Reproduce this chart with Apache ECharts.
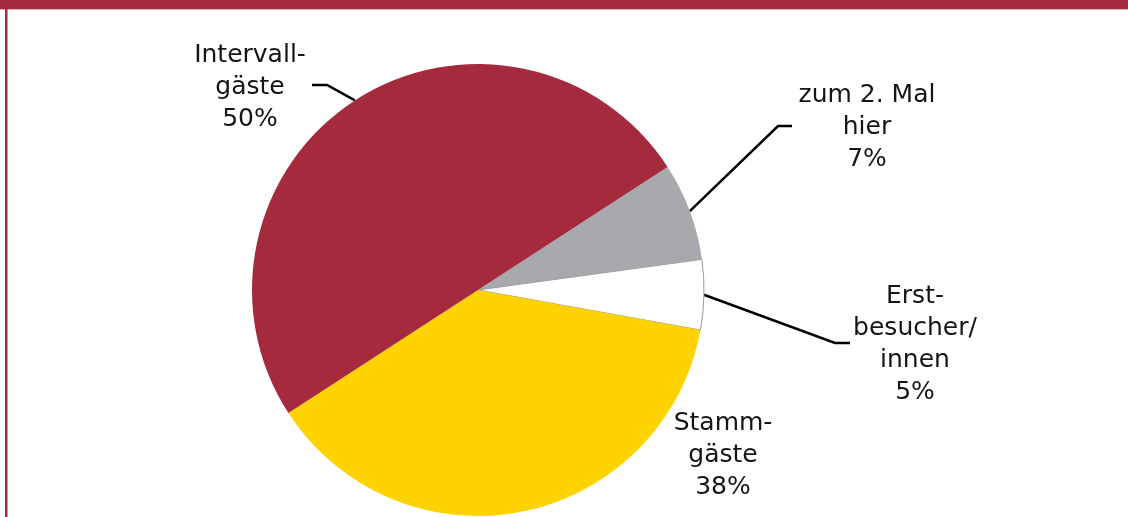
<!DOCTYPE html>
<html>
<head>
<meta charset="utf-8">
<script src="https://cdn.jsdelivr.net/npm/echarts@6/dist/echarts.min.js"></script>
<style>
  html, body { margin: 0; padding: 0; background: #fff; }
  #chart { width: 1128px; height: 517px; }
</style>
</head>
<body>
<div id="chart"></div>
<script>
// Daten (Reihenfolge im Uhrzeigersinn ab Startwinkel)
const categories = ['zum 2. Mal hier', 'Erstbesucher/innen', 'Stammgäste', 'Intervallgäste']
const labelTexts = ['zum 2. Mal\nhier', 'Erst-\nbesucher/\ninnen', 'Stamm-\ngäste', 'Intervall-\ngäste']
const values = [7, 5, 38, 50]

// Farben der Segmente
const colors = ['#a7a9ac', '#ffffff', '#ffd300', '#a52a3e']

// Label-Position (Mitte des Textblocks) und Knick/Ende der Führungslinie
const labelAnchor = [[867, 127], [915, 344], [723, 455], [250, 87]]
const lineBend = [[778, 126], [835, 343], null, [327, 85]]
const lineEnd = [[792, 126], [850, 343], null, [312, 85]]

const chart = echarts.init(document.getElementById('chart'), null, { renderer: 'canvas' })

const option = {
  animation: false,
  backgroundColor: '#fff',
  graphic: [
    // roter Rahmen oben und links
    { type: 'rect', shape: { x: 0, y: 0, width: 1128, height: 9 }, style: { fill: '#a52a3e' } },
    { type: 'rect', shape: { x: 0, y: 9, width: 1128, height: 1 }, style: { fill: '#e3b3bb' } },
    { type: 'rect', shape: { x: 5, y: 0, width: 2.5, height: 517 }, style: { fill: '#a52a3e' } }
  ],
  series: [
    {
      type: 'pie',
      center: [478, 290],
      radius: 226,
      startAngle: 33,
      clockwise: true,
      avoidLabelOverlap: false,
      emphasis: { disabled: true },
      data: categories.map((name, i) => ({
        name: name,
        value: values[i],
        itemStyle: i === 1
          ? { color: colors[i], borderColor: '#9a9a9a', borderWidth: 1 }
          : { color: colors[i], borderWidth: 0 },
        labelLine: { show: lineBend[i] !== null }
      })),
      label: {
        show: true,
        position: 'outside',
        formatter: p => labelTexts[p.dataIndex] + '\n' + p.value + '%',
        fontFamily: '"DejaVu Sans", Verdana, sans-serif',
        fontSize: 25,
        lineHeight: 32,
        color: '#151515'
      },
      labelLine: {
        show: true,
        length: 20,
        length2: 15,
        lineStyle: { color: '#000', width: 2.5 }
      },
      labelLayout: params => {
        const i = params.dataIndex
        const res = {
          x: labelAnchor[i][0],
          y: labelAnchor[i][1],
          align: 'center',
          verticalAlign: 'middle'
        }
        if (lineBend[i] && params.labelLinePoints) {
          res.labelLinePoints = [params.labelLinePoints[0], lineBend[i], lineEnd[i]]
        }
        return res
      }
    }
  ]
}

chart.setOption(option)
</script>
</body>
</html>
